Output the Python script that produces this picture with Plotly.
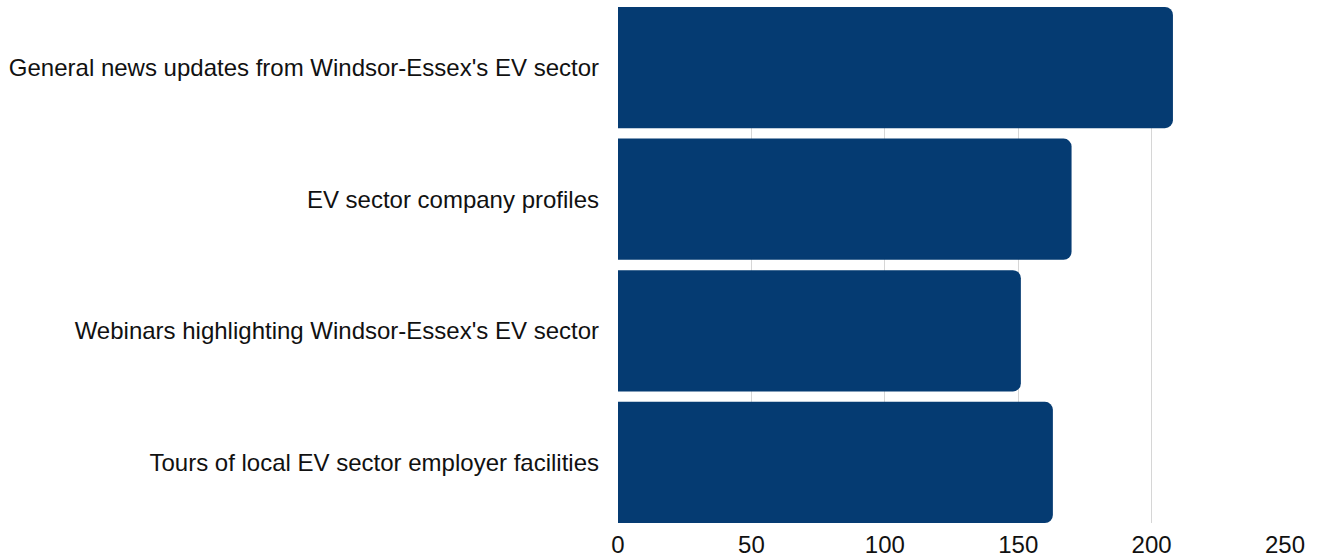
import plotly.graph_objects as go

# Survey: interest in EV sector content
categories = [
    "General news updates from Windsor-Essex's EV sector",
    "EV sector company profiles",
    "Webinars highlighting Windsor-Essex's EV sector",
    "Tours of local EV sector employer facilities",
]
responses = [208, 170, 151, 163]
tick_values = [0, 50, 100, 150, 200, 250]

bar_gap = 0.079
half = (1 - bar_gap) / 2

fig = go.Figure(
    go.Bar(
        x=responses,
        y=list(range(len(categories))),
        orientation="h",
        marker=dict(color="#053b72", cornerradius=8, line=dict(width=0)),
        hoverinfo="x",
    )
)

fig.update_layout(
    width=1321,
    height=559,
    margin=dict(l=618, r=36, t=7, b=36, autoexpand=False),
    paper_bgcolor="white",
    plot_bgcolor="white",
    bargap=bar_gap,
    showlegend=False,
    font=dict(family="Liberation Sans, Arial, Helvetica, sans-serif", size=24, color="#111111"),
    xaxis=dict(
        range=[0, 250],
        tickvals=tick_values,
        ticktext=[str(v) for v in tick_values],
        showgrid=True,
        gridcolor="#d6d6d6",
        gridwidth=1,
        zeroline=False,
        showline=False,
        ticks="",
        ticklabelstandoff=5,
        automargin=False,
    ),
    yaxis=dict(
        range=[len(categories) - 1 + half, -half],
        tickvals=list(range(len(categories))),
        ticktext=categories,
        showgrid=False,
        zeroline=False,
        showline=False,
        ticks="",
        ticklabelstandoff=18,
        automargin=False,
    ),
)

fig.write_html("out.html")
